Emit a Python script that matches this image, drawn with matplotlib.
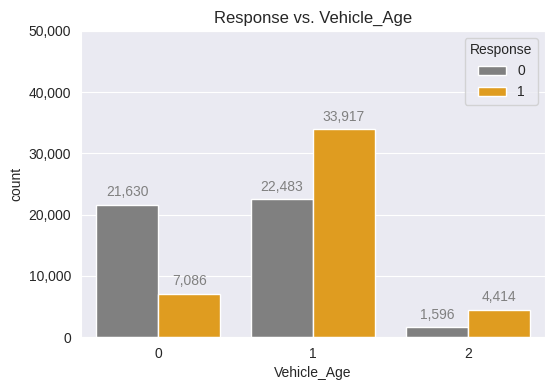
import pandas as pd
import matplotlib
matplotlib.use('Agg')
import matplotlib.pyplot as plt
import seaborn as sns

# Counts per vehicle age and response
vehicle_age = [0, 1, 2]
response_0 = [21630, 22483, 1596]
response_1 = [7086, 33917, 4414]

df = pd.DataFrame({
    'Vehicle_Age': vehicle_age * 2,
    'Response': [0] * 3 + [1] * 3,
    'count': response_0 + response_1,
})

sns.set_style('darkgrid')
plt.rcParams['font.family'] = ['Liberation Sans', 'DejaVu Sans']

fig, ax = plt.subplots(figsize=(5.54, 3.87), dpi=100)
sns.barplot(data=df, x='Vehicle_Age', y='count', hue='Response',
            palette=['gray', 'orange'], ax=ax)

# Value labels above bars
for container in ax.containers:
    ax.bar_label(container, labels=[f'{int(v):,}' for v in container.datavalues],
                 padding=4, fontsize=10, color='gray')

ax.set_ylim(0, 50000)
ax.yaxis.set_major_formatter(matplotlib.ticker.StrMethodFormatter('{x:,.0f}'))
ax.set_title('Response vs. Vehicle_Age')
ax.legend(title='Response', loc='upper right')

plt.subplots_adjust(left=0.146, right=0.984, bottom=0.129, top=0.920)
plt.savefig('out.png', dpi=100)
